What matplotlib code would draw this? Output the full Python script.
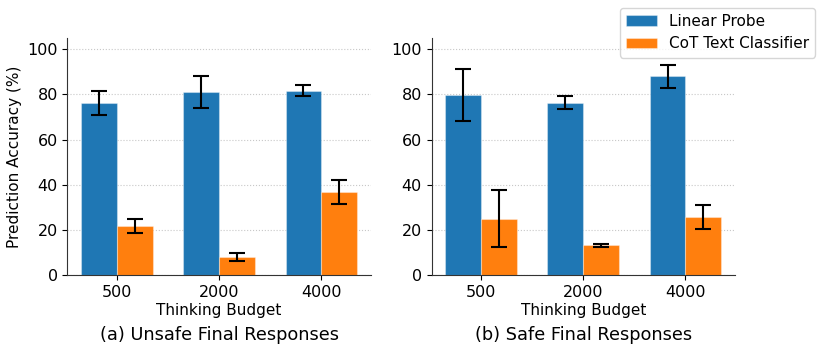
import numpy as np
import matplotlib
matplotlib.use('Agg')
import matplotlib.pyplot as plt

budgets = ['500', '2000', '4000']
series = ['Linear Probe', 'CoT Text Classifier']
colors = ['#1f77b4', '#ff7f0e']

# (a) unsafe final responses
unsafe_probe = [76.3, 81.0, 81.6]
unsafe_probe_err = [5.3, 7.0, 2.4]
unsafe_cot = [21.8, 8.0, 36.8]
unsafe_cot_err = [3.1, 1.8, 5.2]

# (b) safe final responses
safe_probe = [79.7, 76.3, 88.0]
safe_probe_err = [11.5, 2.8, 5.0]
safe_cot = [25.0, 13.3, 25.7]
safe_cot_err = [12.6, 0.6, 5.4]

panels = [
    ('(a) Unsafe Final Responses', unsafe_probe, unsafe_probe_err, unsafe_cot, unsafe_cot_err),
    ('(b) Safe Final Responses', safe_probe, safe_probe_err, safe_cot, safe_cot_err),
]

fig, axes = plt.subplots(1, 2, figsize=(8.23, 3.53), dpi=100)
plt.subplots_adjust(left=0.082, right=0.893, top=0.893, bottom=0.22, wspace=0.2)

x = np.arange(len(budgets))
w = 0.35
ekw = {'elinewidth': 1.5, 'capthick': 1.5}
for ax, (title, p, pe, c, ce) in zip(axes, panels):
    ax.bar(x - w/2, p, w, yerr=pe, color=colors[0], edgecolor=(1, 1, 1, 0.35), linewidth=0.8,
           capsize=6, error_kw=ekw, label=series[0], zorder=2)
    ax.bar(x + w/2, c, w, yerr=ce, color=colors[1], edgecolor=(1, 1, 1, 0.35), linewidth=0.8,
           capsize=6, error_kw=ekw, label=series[1], zorder=2)
    ax.set_xticks(x)
    ax.set_xticklabels(budgets, fontsize=11.5)
    ax.tick_params(axis='y', labelsize=11.5)
    ax.set_ylim(0, 105)
    ax.set_yticks([0, 20, 40, 60, 80, 100])
    ax.set_xlabel('Thinking Budget', fontsize=11, labelpad=2)
    ax.grid(axis='y', linestyle=':', color='#c8c8c8', linewidth=0.8, zorder=0)
    ax.spines['top'].set_visible(False)
    ax.spines['right'].set_visible(False)
    for s in ['left', 'bottom']:
        ax.spines[s].set_color('#333333')
    ax.text(0.5, -0.215, title, transform=ax.transAxes, ha='center', va='top', fontsize=12.8)

axes[0].set_ylabel('Prediction Accuracy (%)', fontsize=11)

h, l = axes[0].get_legend_handles_labels()
fig.legend(h, l, loc='upper right', bbox_to_anchor=(1.0, 1.0), fontsize=11)

plt.savefig('out.png', dpi=100)
